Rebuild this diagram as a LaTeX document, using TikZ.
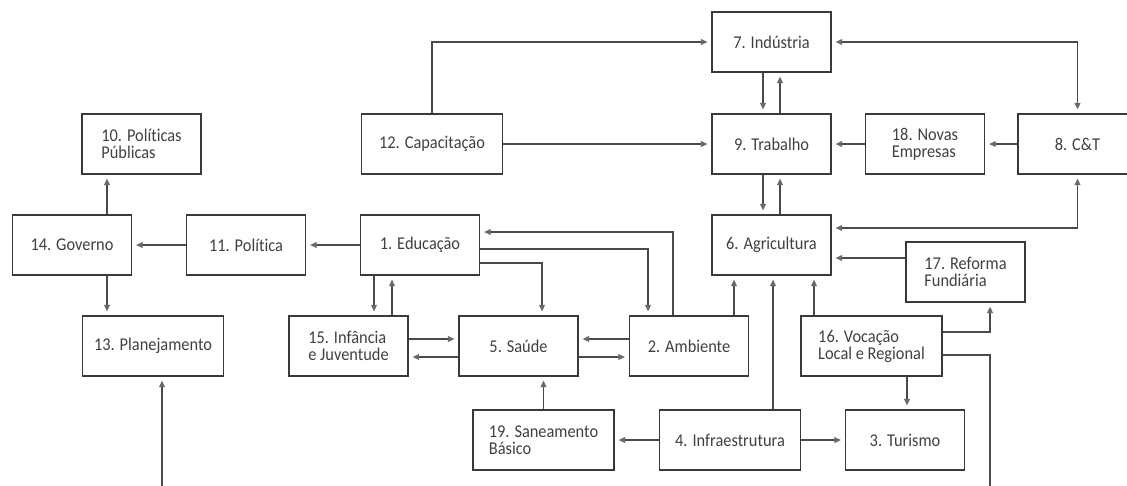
\documentclass[tikz,border=0pt]{standalone}
\usepackage{fontspec}
\setmainfont{Carlito}[FakeStretch=0.91,RawFeature={-liga}]
\usetikzlibrary{calc,arrows.meta}
\definecolor{boxC}{HTML}{3A3A3A}
\definecolor{lineC}{HTML}{4A4A4A}
\definecolor{tipC}{HTML}{6A6A6A}
\definecolor{txtC}{HTML}{404040}
\tikzset{
  box/.style={draw=boxC, line width=1.3pt, minimum height=60pt, inner sep=0pt,
    text=txtC, align=left, font=\fontsize{18}{17}\selectfont},
  nbox/.style={box, minimum width=119pt},
  wbox/.style={box, minimum width=141pt},
  conn/.style={draw=lineC, line width=1.2pt, shorten >=4pt,
    -{Triangle[length=6.5pt,width=6pt,color=tipC]}},
  conn2/.style={draw=lineC, line width=1.2pt, shorten >=4pt, shorten <=4pt,
    {Triangle[length=6.5pt,width=6pt,color=tipC]}-{Triangle[length=6.5pt,width=6pt,color=tipC]}},
}
\begin{document}
\begin{tikzpicture}[x=1pt,y=-1pt]
\useasboundingbox (0,0) rectangle (1127,485);
\clip (0,0) rectangle (1127,485);
% nodes
\node[nbox] (n10) at (141.5,144) {10. Políticas\\Públicas};
\node[nbox] (n14) at (72,245) {14. Governo};
\node[nbox] (n11) at (246,245) {11. Política};
\node[nbox] (n1)  at (420,245) {1. Educação};
\node[wbox] (n12) at (432,144) {12. Capacitação};
\node[nbox] (n7)  at (771.5,42) {7. Indústria};
\node[nbox] (n9)  at (771.5,144) {9. Trabalho};
\node[nbox] (n6)  at (771.5,245) {6. Agricultura};
\node[nbox] (n18) at (925,144) {18. Novas\\Empresas};
\node[nbox] (n8)  at (1077.5,144) {8. C\&T};
\node[wbox] (n13) at (153,346) {13. Planejamento};
\node[nbox] (n15) at (348.5,346) {15. Infância\\e Juventude};
\node[nbox] (n5)  at (518.5,346) {5. Saúde};
\node[nbox] (n2)  at (689,346) {2. Ambiente};
\node[wbox] (n16) at (871.5,346) {16. Vocação\\Local e Regional};
\node[nbox] (n17) at (965.5,272) {17. Reforma\\Fundiária};
\node[wbox] (n19) at (543.5,440) {19. Saneamento\\Básico};
\node[wbox] (n4)  at (730,440) {4. Infraestrutura};
\node[nbox] (n3)  at (905,440) {3. Turismo};
\coordinate (turnA) at (990,520);
\coordinate (turnB) at (162,520);
% connectors
\draw[conn] (n12.north) |- (n7.west);
\draw[conn] (n12.east) -- (n9.west);
\draw[conn2] (n8.north) |- (n7.east);
\draw[conn] ($(n7.south)+(-8.5,0)$) -- ($(n9.north)+(-8.5,0)$);
\draw[conn] ($(n9.north)+(8.5,0)$) -- ($(n7.south)+(8.5,0)$);
\draw[conn] (n18.west) -- (n9.east);
\draw[conn] (n8.west) -- (n18.east);
\draw[conn] ($(n9.south)+(-8.5,0)$) -- ($(n6.north)+(-8.5,0)$);
\draw[conn] ($(n6.north)+(8.5,0)$) -- ($(n9.south)+(8.5,0)$);
\draw[conn2] ($(n6.east)+(0,-17)$) -| (n8.south);
\draw[conn] ($(n17.west)+(0,-14)$) coordinate (a17) -- (a17 -| n6.east);
\draw[conn] ($(n16.north)+(-57.5,0)$) coordinate (a16) -- (a16 |- n6.south);
\draw[conn] ($(n4.north)+(43,0)$) coordinate (a4) -- (a4 |- n6.south);
\draw[conn] ($(n2.north)+(45,0)$) coordinate (a2) -- (a2 |- n6.south);
\draw[conn] ($(n16.east)+(0,-14)$) -| ($(n17.south)+(24.5,0)$);
\draw[conn] ($(n16.east)+(0,9)$) -| (turnA) -- (turnB) -- ($(n13.south)+(9,0)$);
\draw[conn] ($(n16.south)+(35.5,0)$) coordinate (b16) -- (b16 |- n3.north);
\draw[conn] (n4.east) -- (n3.west);
\draw[conn] (n4.west) -- (n19.east);
\draw[conn] (n19.north) -- (n19.north |- n5.south);
\draw[conn] ($(n2.west)+(0,-7)$) coordinate (c2) -- (c2 -| n5.east);
\draw[conn] ($(n5.east)+(0,11)$) coordinate (c5) -- (c5 -| n2.west);
\draw[conn] ($(n15.east)+(0,-7)$) coordinate (c15) -- (c15 -| n5.west);
\draw[conn] ($(n5.west)+(0,11)$) coordinate (d5) -- (d5 -| n15.east);
\draw[conn] ($(n1.south)+(-46,0)$) coordinate (e1) -- (e1 |- n15.north);
\draw[conn] ($(n15.north)+(43.5,0)$) coordinate (e15) -- (e15 |- n1.south);
\draw[conn] ($(n1.east)+(0,18)$) -| ($(n5.north)+(23.5,0)$);
\draw[conn] ($(n1.east)+(0,4)$) -| ($(n2.north)+(-41,0)$);
\draw[conn] ($(n2.north)+(-16,0)$) |- ($(n1.east)+(0,-13)$);
\draw[conn] (n1.west) -- (n11.east);
\draw[conn] (n11.west) -- (n14.east);
\draw[conn] ($(n14.north)+(35,0)$) coordinate (f14) -- (f14 |- n10.south);
\draw[conn] ($(n14.south)+(35,0)$) coordinate (g14) -- (g14 |- n13.north);
\end{tikzpicture}
\end{document}
